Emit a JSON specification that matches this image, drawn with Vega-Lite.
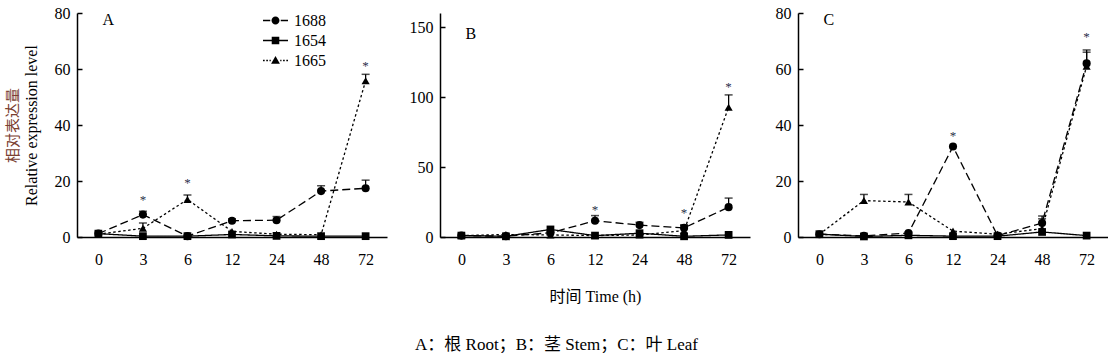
{
"$schema":"https://vega.github.io/schema/vega-lite/v6.json",
"padding":{"left":5,"top":5,"right":0,"bottom":0},
"background":"white",
"title":{"text":"A：根 Root；B：茎 Stem；C：叶 Leaf","orient":"bottom","anchor":"middle","font":"Liberation Serif, Noto Sans CJK SC","fontSize":17,"fontWeight":"normal","color":"black","offset":33},
"datasets":{
"main":[
{"panel":"A","series":"1688","time":"0","value":1.2},{"panel":"A","series":"1688","time":"3","value":8.0,"hi":9.2},{"panel":"A","series":"1688","time":"6","value":0.3},{"panel":"A","series":"1688","time":"12","value":5.8,"hi":6.5},{"panel":"A","series":"1688","time":"24","value":6.0,"hi":7.3},{"panel":"A","series":"1688","time":"48","value":16.4,"hi":18.3},{"panel":"A","series":"1688","time":"72","value":17.4,"hi":20.3},
{"panel":"A","series":"1654","time":"0","value":1.2},{"panel":"A","series":"1654","time":"3","value":0.3},{"panel":"A","series":"1654","time":"6","value":0.3},{"panel":"A","series":"1654","time":"12","value":0.9},{"panel":"A","series":"1654","time":"24","value":0.4},{"panel":"A","series":"1654","time":"48","value":0.3},{"panel":"A","series":"1654","time":"72","value":0.3},
{"panel":"A","series":"1665","time":"0","value":1.0},{"panel":"A","series":"1665","time":"3","value":3.1,"hi":5.0},{"panel":"A","series":"1665","time":"6","value":13.4,"hi":15.0},{"panel":"A","series":"1665","time":"12","value":2.0},{"panel":"A","series":"1665","time":"24","value":1.0},{"panel":"A","series":"1665","time":"48","value":0.8},{"panel":"A","series":"1665","time":"72","value":55.8,"hi":58.1},
{"panel":"B","series":"1688","time":"0","value":1.0},{"panel":"B","series":"1688","time":"3","value":0.6},{"panel":"B","series":"1688","time":"6","value":3.0},{"panel":"B","series":"1688","time":"12","value":11.6,"hi":15.3},{"panel":"B","series":"1688","time":"24","value":8.5,"hi":10.5},{"panel":"B","series":"1688","time":"48","value":6.5,"hi":8.5},{"panel":"B","series":"1688","time":"72","value":21.3,"hi":27.8},
{"panel":"B","series":"1654","time":"0","value":1.0},{"panel":"B","series":"1654","time":"3","value":0.5},{"panel":"B","series":"1654","time":"6","value":5.4},{"panel":"B","series":"1654","time":"12","value":1.0},{"panel":"B","series":"1654","time":"24","value":2.7},{"panel":"B","series":"1654","time":"48","value":0.5},{"panel":"B","series":"1654","time":"72","value":1.5},
{"panel":"B","series":"1665","time":"0","value":1.0},{"panel":"B","series":"1665","time":"3","value":1.8},{"panel":"B","series":"1665","time":"6","value":1.5},{"panel":"B","series":"1665","time":"12","value":1.0},{"panel":"B","series":"1665","time":"24","value":1.5},{"panel":"B","series":"1665","time":"48","value":4.5,"hi":8.5},{"panel":"B","series":"1665","time":"72","value":92.7,"hi":101.5},
{"panel":"C","series":"1688","time":"0","value":1.0},{"panel":"C","series":"1688","time":"3","value":0.4},{"panel":"C","series":"1688","time":"6","value":1.4},{"panel":"C","series":"1688","time":"12","value":32.3},{"panel":"C","series":"1688","time":"24","value":0.5},{"panel":"C","series":"1688","time":"48","value":5.0,"hi":7.5},{"panel":"C","series":"1688","time":"72","value":62.0,"hi":66.8},
{"panel":"C","series":"1654","time":"0","value":1.0},{"panel":"C","series":"1654","time":"3","value":0.2},{"panel":"C","series":"1654","time":"6","value":0.6},{"panel":"C","series":"1654","time":"12","value":0.3},{"panel":"C","series":"1654","time":"24","value":0.3},{"panel":"C","series":"1654","time":"48","value":1.8},{"panel":"C","series":"1654","time":"72","value":0.5},
{"panel":"C","series":"1665","time":"0","value":1.0},{"panel":"C","series":"1665","time":"3","value":13.0,"hi":15.2},{"panel":"C","series":"1665","time":"6","value":12.5,"hi":15.2},{"panel":"C","series":"1665","time":"12","value":2.1},{"panel":"C","series":"1665","time":"24","value":1.0},{"panel":"C","series":"1665","time":"48","value":3.0,"hi":6.5},{"panel":"C","series":"1665","time":"72","value":61.0,"hi":66.0}
],
"stars":[
{"panel":"A","time":"3","value":14.3},{"panel":"A","time":"6","value":20.3},{"panel":"A","time":"72","value":62.1},
{"panel":"B","time":"12","value":21.7},{"panel":"B","time":"48","value":19.5},{"panel":"B","time":"72","value":109.5},
{"panel":"C","time":"12","value":37.1},{"panel":"C","time":"72","value":72.5}
]
},
"spacing":14,
"hconcat":[
{
"width":310,"height":224,
"resolve":{"scale":{"y":"independent"},"axis":{"y":"independent"}},
"layer":[
{"layer":[
{"data":{"name":"main"},"transform":[{"filter":"datum.panel==='A'"}],"mark":{"type":"line","color":"black","strokeWidth":1.3},
"encoding":{"x":{"field":"time","type":"ordinal","scale":{"type":"point","domain":["0","3","6","12","24","48","72"],"padding":0.48},"axis":{"title":null}},
"y":{"field":"value","type":"quantitative","scale":{"domain":[0,80]},"axis":{"values":[0,20,40,60,80],"title":"Relative expression level","labelPadding":12,"minExtent":0,"titlePadding":15,"titleFontSize":16,"titleLimit":400}},
"strokeDash":{"field":"series","type":"nominal","scale":{"domain":["1688","1654","1665"],"range":[[8,4],[1,0],[2.5,2.5]]},"legend":null}}},
{"data":{"name":"main"},"transform":[{"filter":"datum.panel==='A' && isValid(datum.hi)"}],"mark":{"type":"rule","color":"black","strokeWidth":1.3},
"encoding":{"x":{"field":"time","type":"ordinal"},"y":{"field":"value","type":"quantitative"},"y2":{"field":"hi"}}},
{"data":{"name":"main"},"transform":[{"filter":"datum.panel==='A' && isValid(datum.hi)"}],"mark":{"type":"tick","color":"black","size":8,"thickness":1.5},
"encoding":{"x":{"field":"time","type":"ordinal"},"y":{"field":"hi","type":"quantitative"}}},
{"data":{"name":"main"},"transform":[{"filter":"datum.panel==='A' && datum.series==='1688'"}],"mark":{"type":"point","shape":"circle","filled":true,"color":"black","size":66,"opacity":1},
"encoding":{"x":{"field":"time","type":"ordinal"},"y":{"field":"value","type":"quantitative"}}},
{"data":{"name":"main"},"transform":[{"filter":"datum.panel==='A' && datum.series==='1654'"}],"mark":{"type":"point","shape":"square","filled":true,"color":"black","size":60,"opacity":1},
"encoding":{"x":{"field":"time","type":"ordinal"},"y":{"field":"value","type":"quantitative"}}},
{"data":{"name":"main"},"transform":[{"filter":"datum.panel==='A' && datum.series==='1665'"}],"mark":{"type":"point","shape":"triangle-up","filled":true,"color":"black","size":66,"opacity":1},
"encoding":{"x":{"field":"time","type":"ordinal"},"y":{"field":"value","type":"quantitative"}}},
{"data":{"name":"main"},"transform":[{"filter":"datum.panel==='none'"}],"mark":{"type":"point","filled":true,"color":"black","opacity":1},
"encoding":{"x":{"field":"time","type":"ordinal"},"y":{"field":"value","type":"quantitative"},
"shape":{"field":"series","type":"nominal","scale":{"domain":["k1688","k1654","k1665"],"range":[
"M-1.19,-0.07H-0.5V0.07H-1.19ZM0.5,-0.07H1.19V0.07H0.5ZM-0.38,0A0.38,0.38 0 1,1 0.38,0A0.38,0.38 0 1,1 -0.38,0Z",
"M-1.19,-0.07H1.19V0.07H-1.19ZM-0.36,-0.36H0.36V0.36H-0.36Z",
"M-1.19,-0.07H-1.03V0.07H-1.19ZM-0.88,-0.07H-0.72V0.07H-0.88ZM-0.57,-0.07H-0.45V0.07H-0.57ZM0.45,-0.07H0.57V0.07H0.45ZM0.72,-0.07H0.88V0.07H0.72ZM1.03,-0.07H1.19V0.07H1.03ZM-0.42,0.32L0,-0.42L0.42,0.32Z"]},
"legend":{"orient":"none","legendX":187,"legendY":-4,"title":null,"symbolSize":441,"labelFont":"Liberation Serif","labelFontSize":16,"labelColor":"black","labelOffset":7,"rowPadding":0,"padding":0,"labelExpr":"substring(datum.label,1)",
"encode":{"symbols":{"update":{"opacity":{"value":1},"fill":{"value":"black"},"strokeWidth":{"value":0}}}}}}}},
{"data":{"name":"stars"},"transform":[{"filter":"datum.panel==='A'"}],"mark":{"type":"text","text":"*","font":"Liberation Serif","fontSize":13,"color":"#2a2f4a","baseline":"middle","dy":3},
"encoding":{"x":{"field":"time","type":"ordinal"},"y":{"field":"value","type":"quantitative"}}},
{"data":{"values":[{"t":"A"}]},"mark":{"type":"text","font":"Liberation Serif","fontSize":16,"color":"black","align":"left","baseline":"top","dx":4,"dy":-1},
"encoding":{"text":{"field":"t"},"x":{"datum":"0","type":"ordinal"},"y":{"datum":80,"type":"quantitative"}}}
]},
{"data":{"name":"main"},"transform":[{"filter":"datum.panel==='A'"}],"mark":{"type":"point","filled":true,"opacity":0,"color":"black"},
"encoding":{"x":{"field":"time","type":"ordinal"},
"y":{"field":"value","type":"quantitative","scale":{"domain":[0,80]},"axis":{"orient":"left","title":"相对表达量","titleColor":"#7a4030","titleFont":"Noto Sans CJK SC","titleFontSize":15,"labels":false,"ticks":false,"domain":false,"titlePadding":57,"minExtent":0}}}}
]
},
{
"width":310,"height":224,
"layer":[
{"data":{"name":"main"},"transform":[{"filter":"datum.panel==='B'"}],"mark":{"type":"line","color":"black","strokeWidth":1.3},
"encoding":{"x":{"field":"time","type":"ordinal","scale":{"type":"point","domain":["0","3","6","12","24","48","72"],"padding":0.48},"axis":{"title":"时间 Time (h)","titlePadding":21,"titleFontSize":16}},
"y":{"field":"value","type":"quantitative","scale":{"domain":[0,150]},"axis":{"values":[0,50,100,150],"title":null,"labelPadding":12,"minExtent":39,"maxExtent":39}},
"strokeDash":{"field":"series","type":"nominal","scale":{"domain":["1688","1654","1665"],"range":[[8,4],[1,0],[2.5,2.5]]},"legend":null}}},
{"data":{"name":"main"},"transform":[{"filter":"datum.panel==='B' && isValid(datum.hi)"}],"mark":{"type":"rule","color":"black","strokeWidth":1.3},
"encoding":{"x":{"field":"time","type":"ordinal"},"y":{"field":"value","type":"quantitative"},"y2":{"field":"hi"}}},
{"data":{"name":"main"},"transform":[{"filter":"datum.panel==='B' && isValid(datum.hi)"}],"mark":{"type":"tick","color":"black","size":8,"thickness":1.5},
"encoding":{"x":{"field":"time","type":"ordinal"},"y":{"field":"hi","type":"quantitative"}}},
{"data":{"name":"main"},"transform":[{"filter":"datum.panel==='B' && datum.series==='1688'"}],"mark":{"type":"point","shape":"circle","filled":true,"color":"black","size":66,"opacity":1},
"encoding":{"x":{"field":"time","type":"ordinal"},"y":{"field":"value","type":"quantitative"}}},
{"data":{"name":"main"},"transform":[{"filter":"datum.panel==='B' && datum.series==='1654'"}],"mark":{"type":"point","shape":"square","filled":true,"color":"black","size":60,"opacity":1},
"encoding":{"x":{"field":"time","type":"ordinal"},"y":{"field":"value","type":"quantitative"}}},
{"data":{"name":"main"},"transform":[{"filter":"datum.panel==='B' && datum.series==='1665'"}],"mark":{"type":"point","shape":"triangle-up","filled":true,"color":"black","size":66,"opacity":1},
"encoding":{"x":{"field":"time","type":"ordinal"},"y":{"field":"value","type":"quantitative"}}},
{"data":{"name":"stars"},"transform":[{"filter":"datum.panel==='B'"}],"mark":{"type":"text","text":"*","font":"Liberation Serif","fontSize":13,"color":"#2a2f4a","baseline":"middle","dy":3},
"encoding":{"x":{"field":"time","type":"ordinal"},"y":{"field":"value","type":"quantitative"}}},
{"data":{"values":[{"t":"B"}]},"mark":{"type":"text","font":"Liberation Serif","fontSize":16,"color":"black","align":"left","baseline":"top","dx":4,"dy":-1},
"encoding":{"text":{"field":"t"},"x":{"datum":"0","type":"ordinal"},"y":{"datum":150,"type":"quantitative"}}}
]
},
{
"width":310,"height":224,
"layer":[
{"data":{"name":"main"},"transform":[{"filter":"datum.panel==='C'"}],"mark":{"type":"line","color":"black","strokeWidth":1.3},
"encoding":{"x":{"field":"time","type":"ordinal","scale":{"type":"point","domain":["0","3","6","12","24","48","72"],"padding":0.48},"axis":{"title":null}},
"y":{"field":"value","type":"quantitative","scale":{"domain":[0,80]},"axis":{"values":[0,20,40,60,80],"title":null,"labelPadding":12,"minExtent":34,"maxExtent":34}},
"strokeDash":{"field":"series","type":"nominal","scale":{"domain":["1688","1654","1665"],"range":[[8,4],[1,0],[2.5,2.5]]},"legend":null}}},
{"data":{"name":"main"},"transform":[{"filter":"datum.panel==='C' && isValid(datum.hi)"}],"mark":{"type":"rule","color":"black","strokeWidth":1.3},
"encoding":{"x":{"field":"time","type":"ordinal"},"y":{"field":"value","type":"quantitative"},"y2":{"field":"hi"}}},
{"data":{"name":"main"},"transform":[{"filter":"datum.panel==='C' && isValid(datum.hi)"}],"mark":{"type":"tick","color":"black","size":8,"thickness":1.5},
"encoding":{"x":{"field":"time","type":"ordinal"},"y":{"field":"hi","type":"quantitative"}}},
{"data":{"name":"main"},"transform":[{"filter":"datum.panel==='C' && datum.series==='1688'"}],"mark":{"type":"point","shape":"circle","filled":true,"color":"black","size":66,"opacity":1},
"encoding":{"x":{"field":"time","type":"ordinal"},"y":{"field":"value","type":"quantitative"}}},
{"data":{"name":"main"},"transform":[{"filter":"datum.panel==='C' && datum.series==='1654'"}],"mark":{"type":"point","shape":"square","filled":true,"color":"black","size":60,"opacity":1},
"encoding":{"x":{"field":"time","type":"ordinal"},"y":{"field":"value","type":"quantitative"}}},
{"data":{"name":"main"},"transform":[{"filter":"datum.panel==='C' && datum.series==='1665'"}],"mark":{"type":"point","shape":"triangle-up","filled":true,"color":"black","size":66,"opacity":1},
"encoding":{"x":{"field":"time","type":"ordinal"},"y":{"field":"value","type":"quantitative"}}},
{"data":{"name":"stars"},"transform":[{"filter":"datum.panel==='C'"}],"mark":{"type":"text","text":"*","font":"Liberation Serif","fontSize":13,"color":"#2a2f4a","baseline":"middle","dy":3},
"encoding":{"x":{"field":"time","type":"ordinal"},"y":{"field":"value","type":"quantitative"}}},
{"data":{"values":[{"t":"C"}]},"mark":{"type":"text","font":"Liberation Serif","fontSize":16,"color":"black","align":"left","baseline":"top","dx":4,"dy":-1},
"encoding":{"text":{"field":"t"},"x":{"datum":"0","type":"ordinal"},"y":{"datum":80,"type":"quantitative"}}}
]
}
],
"config":{
"view":{"stroke":null},
"font":"Liberation Serif",
"axis":{"domainColor":"black","domainWidth":1.5,"tickColor":"black","tickWidth":1.5,"labelFont":"Liberation Serif","labelFontSize":16,"labelColor":"black","grid":false,"titleFont":"Liberation Serif, Noto Sans CJK SC","titleFontWeight":"normal","titleFontSize":16,"titleColor":"black"},
"axisX":{"ticks":false,"labelPadding":14,"labelAngle":0},
"axisY":{"tickSize":-5,"labelPadding":12}
}
}
